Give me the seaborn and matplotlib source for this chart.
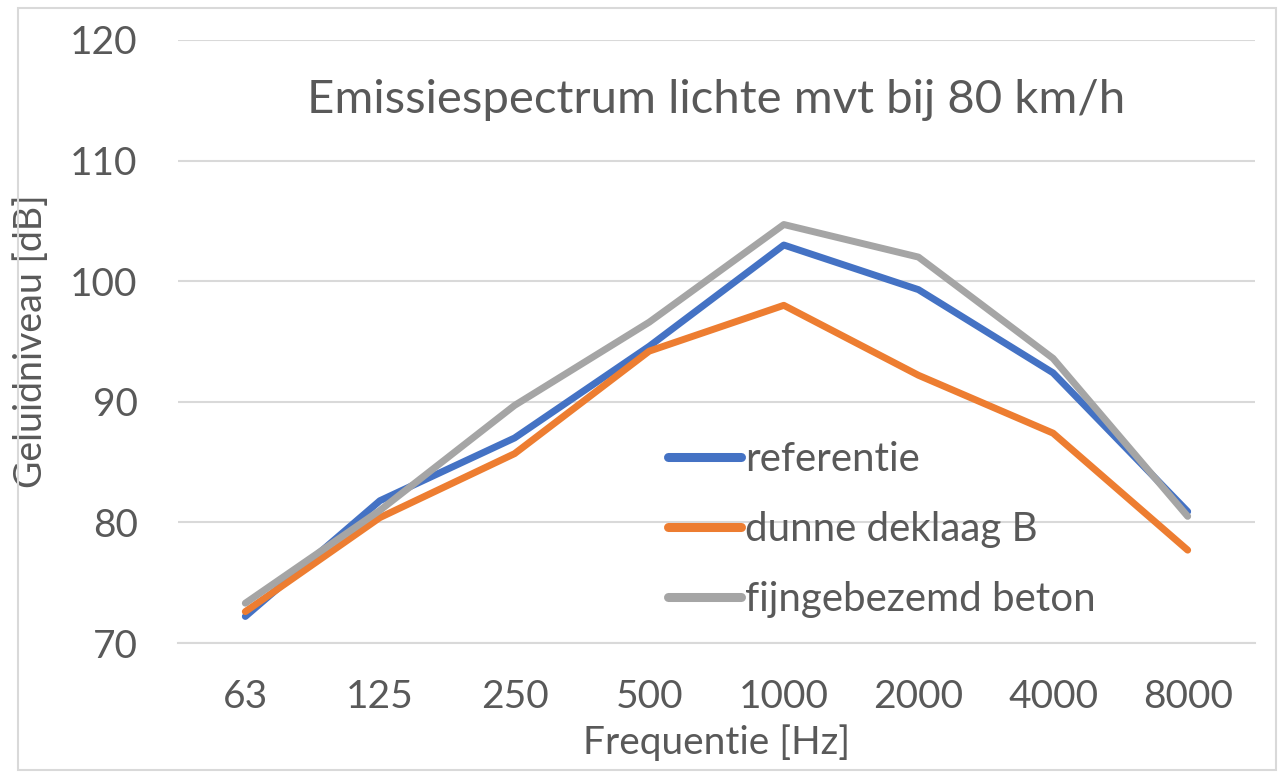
import pandas as pd
import seaborn as sns
import matplotlib.pyplot as plt
from matplotlib.patches import Rectangle

# --- data ---
frequencies = ["63", "125", "250", "500", "1000", "2000", "4000", "8000"]
referentie = [72.2, 81.8, 87.0, 94.6, 103.0, 99.3, 92.4, 80.9]
dunne_deklaag = [72.6, 80.4, 85.7, 94.2, 98.0, 92.2, 87.4, 77.7]
fijngebezemd = [73.3, 81.0, 89.7, 96.6, 104.7, 102.0, 93.6, 80.5]
series_names = ["referentie", "dunne deklaag B", "fijngebezemd beton"]
y_ticks = [70, 80, 90, 100, 110, 120]

df = pd.DataFrame({
    "Frequentie": frequencies * 3,
    "Niveau": referentie + dunne_deklaag + fijngebezemd,
    "Serie": [series_names[0]] * 8 + [series_names[1]] * 8 + [series_names[2]] * 8,
})

sns.set_theme(style="white")
plt.rcParams['font.family'] = ['Lato', 'DejaVu Sans']
text_col = "#595959"

fig = plt.figure(figsize=(12.81, 7.73), dpi=100)
ax = fig.add_axes([178 / 1281, 1 - 643 / 773, (1255 - 178) / 1281, (643 - 40) / 773])

palette = {series_names[0]: "#4472C4", series_names[1]: "#ED7D31", series_names[2]: "#A5A5A5"}
sns.lineplot(data=df, x="Frequentie", y="Niveau", hue="Serie", palette=palette,
             sort=False, linewidth=5, ax=ax)

ax.set_xlim(-0.5, 7.5)
ax.set_ylim(70, 120)
ax.set_yticks(y_ticks)
ax.yaxis.grid(True, color="#d9d9d9", linewidth=1.5)
ax.set_axisbelow(True)
for s in ax.spines.values():
    s.set_visible(False)
ax.spines["bottom"].set_visible(True)
ax.spines["bottom"].set_color("#d9d9d9")
ax.spines["bottom"].set_linewidth(1.5)
ax.tick_params(axis="both", length=0, labelsize=28, colors=text_col)
ax.tick_params(axis="y", pad=29)
ax.tick_params(axis="x", pad=26)

ax.set_xlabel("Frequentie [Hz]", fontsize=28, color=text_col)
ax.set_ylabel("Geluidniveau [dB]", fontsize=27, color=text_col)
ax.xaxis.set_label_coords(0.5, -0.135)
ax.yaxis.set_label_coords(-0.12, 0.5)

ax.text(0.5, 0.9, "Emissiespectrum lichte mvt bij 80 km/h", transform=ax.transAxes,
        ha="center", va="center", fontsize=34, color=text_col)

leg = ax.legend(loc="upper left", bbox_to_anchor=(0.455, 0.335), frameon=False,
                borderaxespad=0, borderpad=0,
                fontsize=29, handlelength=1.8, handletextpad=0.12, labelspacing=0.82,
                labelcolor=text_col)
for line in leg.get_lines():
    line.set_linewidth(6.5)
    line.set_solid_capstyle("round")

fig.patches.append(Rectangle((18 / 1281, 3 / 773), 1258 / 1281, 762 / 773,
                             transform=fig.transFigure, fill=False,
                             edgecolor="#d9d9d9", linewidth=1.5))

fig.savefig("out.png", dpi=100)
